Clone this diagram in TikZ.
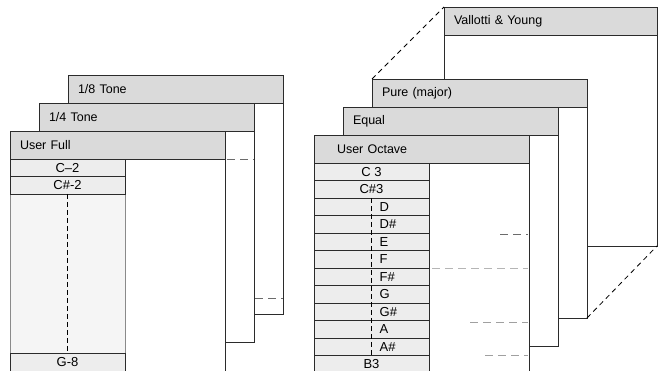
\documentclass[tikz,border=0pt]{standalone}
\usepackage{fontspec}
\setmainfont{Liberation Sans}
\usetikzlibrary{positioning}
\definecolor{inkline}{HTML}{2B2B2B}
\definecolor{screen}{HTML}{DADADA}
\definecolor{rowtint}{HTML}{EDEDED}
\tikzset{
  pagebox/.style={
    draw=inkline,
    fill=white,
    line width=0.9pt,
    minimum width=215pt,
    minimum height=239pt,
    inner sep=0pt,
    outer sep=0pt
  },
  headband/.style={
    draw=inkline,
    fill=screen,
    line width=0.9pt,
    minimum height=28pt,
    text width=195pt,
    inner xsep=10pt,
    inner ysep=0pt,
    outer sep=0pt,
    align=left,
    font=\fontsize{12.5}{14}\selectfont
  },
  listcol/.style={draw=inkline!55, fill=rowtint!55, line width=0.8pt, minimum width=115pt, inner sep=0pt, outer sep=0pt},
  rowcell/.style={
    draw=inkline,
    fill=rowtint,
    line width=0.8pt,
    minimum width=115pt,
    minimum height=17.5pt,
    inner sep=0pt,
    outer sep=0pt,
    font=\fontsize{13}{14}\selectfont
  },
  notelabel/.style={inner sep=0pt, anchor=west, font=\fontsize{13}{14}\selectfont},
  notedash/.style={line width=1.5pt, dash pattern=on 5pt off 3pt},
  depthline/.style={line width=0.8pt, dash pattern=on 5pt off 4pt},
  scanmark/.style={draw=inkline!70, line width=0.8pt, dash pattern=on 8pt off 5pt}
}

\begin{document}
\begin{tikzpicture}[x=1pt, y=-1pt]
\useasboundingbox (0,0) rectangle (659,371);
\clip (0,0) rectangle (659,371);

% left stack: full-range tables
\node[pagebox, anchor=north west] (eighth) at (68,75) {};
\node[headband, anchor=north west] (eighthhead) at (eighth.north west) {1/8 Tone};
\node[pagebox, anchor=north west] (quarter) at (39,103) {};
\node[headband, anchor=north west] (quarterhead) at (quarter.north west) {1/4 Tone};
\node[pagebox, anchor=north west, minimum height=250pt] (full) at (10,131) {};
\node[headband, anchor=north west] (fullhead) at (full.north west) {User Full};

\node[listcol, anchor=north west, minimum height=220pt] (fulllist) at (fullhead.south west) {};
\node[rowcell, anchor=north west] (cm2) at (fullhead.south west) {C--2};
\node[rowcell, below=0pt of cm2] (csm2) {C\#-2};
\node[rowcell, anchor=north west] (g8) at (10,353.5) {G-8};
\draw[notedash] (csm2.south) -- (g8.north);

% right stack: octave tables
\node[pagebox, anchor=north west, minimum width=213pt] (vallotti) at (444,7) {};
\node[headband, anchor=north west, text width=193pt] (vallottihead) at (vallotti.north west) {Vallotti \& Young};
\node[pagebox, anchor=north west] (pure) at (372,79) {};
\node[headband, anchor=north west] (purehead) at (pure.north west) {Pure (major)};
\draw[depthline] (pure.north west) -- (vallotti.north west);
\draw[depthline] (pure.south east) -- (vallotti.south east);
\node[pagebox, anchor=north west] (equal) at (343,107) {};
\node[headband, anchor=north west] (equalhead) at (equal.north west) {Equal};
\node[pagebox, anchor=north west, minimum height=250pt] (octave) at (314,135) {};
\node[headband, anchor=north west] (octavehead) at (octave.north west) {\hspace*{13pt}User Octave};

\node[listcol, anchor=north west, minimum height=220pt] (octlist) at (octavehead.south west) {};
\node[rowcell, anchor=north west] (rowc) at (octavehead.south west) {C 3};
\node[rowcell, below=0pt of rowc] (row0) {C\#3};
\foreach \n [count=\i, remember=\i as \j (initially 0)] in {D,D\#,E,F,F\#,G,G\#,A,A\#} {
  \node[rowcell, below=0pt of row\j] (row\i) {};
  \node[notelabel] (lab\i) at ([xshift=8pt]row\i.center) {\n};
}
\node[rowcell, below=0pt of row9] (rowb) {B3};
\draw[notedash] (row0.south) -- (rowb.north);

% faint marks of the hidden rows
\draw[scanmark] (227,159) -- (254,159);
\draw[scanmark] (255,298) -- (283,298);
\draw[scanmark] (500,234) -- (528,234);
\draw[scanmark, draw=inkline!35] (432,268) -- (528,268);
\draw[scanmark, draw=inkline!45] (470,322) -- (528,322);
\draw[scanmark, draw=inkline!45] (485,355) -- (528,355);
\end{tikzpicture}
\end{document}
